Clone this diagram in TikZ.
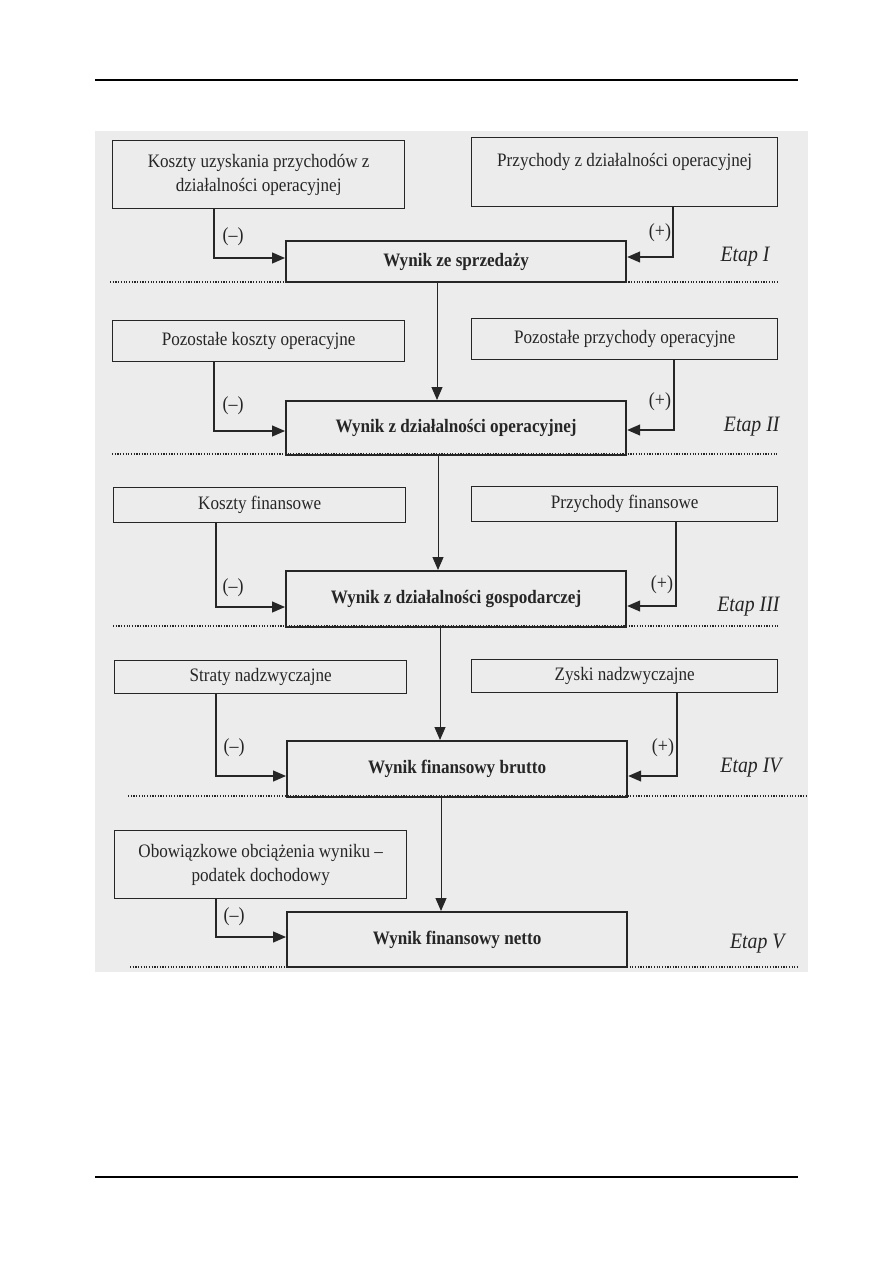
\documentclass[tikz,border=0pt]{standalone}
\usepackage{fontspec}
\setmainfont{Liberation Serif}
\newfontfamily\scanfont[FakeStretch=0.9]{Liberation Serif}
\usetikzlibrary{arrows.meta,positioning,calc}
\definecolor{scangray}{HTML}{ECECEC}
\definecolor{inkgray}{HTML}{262626}

\begin{document}
\begin{tikzpicture}[x=1pt,y=-1pt,
      src/.style={draw=inkgray,line width=1.4pt,anchor=north west,inner sep=0pt,
                  align=center,text=inkgray,font=\scanfont\fontsize{19}{24}\selectfont},
      lsrc/.style={src,minimum width=292pt},
      rsrc/.style={src,minimum width=306pt},
      res/.style={draw=inkgray,line width=2.2pt,anchor=north west,inner sep=0pt,
                  minimum width=340pt,text=inkgray,
                  font=\scanfont\fontsize{19}{22}\selectfont\bfseries},
      ar/.style={draw=inkgray,line width=1.3pt,-{Triangle[length=13pt,width=11pt]}},
      sign/.style={text=inkgray,font=\scanfont\fontsize{20}{22}\selectfont},
      etap/.style={anchor=east,text=inkgray,font=\scanfont\fontsize{22}{26}\selectfont\itshape},
      sep/.style={draw=inkgray,line width=1.5pt,dash pattern=on 1.2pt off 1.5pt}]
    \useasboundingbox (0,0) rectangle (893,1263);
    % page rules
    \draw[line width=1.2pt] (95,80) -- (798,80);
    \draw[line width=1.2pt] (95,1177) -- (798,1177);
    % scanned area
    \fill[scangray] (95,131) rectangle (808,972);
    % stage separators and labels
    \foreach \y/\a/\b/\n/\ey/\ex in {282/110/778/I/257/773,454/112/778/II/427/783,
        626/113/779/III/607/783,796/128/806/IV/768/785,967/130/798/V/944/788} {
      \draw[sep] (\a,\y) -- (\b,\y);
      \node[etap] (e\n) at (\ex,\ey) {Etap \n};}
    % stage I
    \node[lsrc,minimum height=68pt] (k1) at (112,140)
      {Koszty uzyskania przychodów z\\działalności operacyjnej};
    \node[rsrc,minimum height=69pt] (p1) at (471,137)
      {Przychody z działalności operacyjnej\\\mbox{}};
    \node[res,minimum height=41pt] (w1) at (285,240) {Wynik ze sprzedaży};
    \draw[ar] (k1.south -| 214,0) |- (w1.west |- 0,258);
    \draw[ar] (p1.south -| 673,0) |- (w1.east |- 0,257);
    \node[sign] (m1) at (233,237) {(–)};
    \node[sign] (s1) at (660,233) {(+)};
    % stage II
    \node[lsrc,minimum height=41pt] (k2) at (112,320) {Pozostałe koszty operacyjne};
    \node[rsrc,minimum height=41pt] (p2) at (471,318) {Pozostałe przychody operacyjne};
    \node[res,minimum height=54pt] (w2) at (285,400) {Wynik z działalności operacyjnej};
    \draw[ar,line width=1pt] (w1.south -| 437,0) -- (w2.north -| 437,0);
    \draw[ar] (k2.south -| 214,0) |- (w2.west |- 0,431);
    \draw[ar] (p2.south -| 674,0) |- (w2.east |- 0,430);
    \node[sign] (m2) at (233,406) {(–)};
    \node[sign] (s2) at (660,402) {(+)};
    % stage III
    \node[lsrc,minimum height=35pt] (k3) at (113,487) {Koszty finansowe};
    \node[rsrc,minimum height=35pt] (p3) at (471,486) {Przychody finansowe};
    \node[res,minimum height=56pt] (w3) at (285,570) {Wynik z działalności gospodarczej};
    \draw[ar,line width=1pt] (w2.south -| 438,0) -- (w3.north -| 438,0);
    \draw[ar] (k3.south -| 216,0) |- (w3.west |- 0,607);
    \draw[ar] (p3.south -| 676,0) |- (w3.east |- 0,606);
    \node[sign] (m3) at (233,588) {(–)};
    \node[sign] (s3) at (662,585) {(+)};
    % stage IV
    \node[lsrc,minimum height=33pt] (k4) at (114,660) {Straty nadzwyczajne};
    \node[rsrc,minimum height=33pt] (p4) at (471,659) {Zyski nadzwyczajne};
    \node[res,minimum height=56pt] (w4) at (286,740) {Wynik finansowy brutto};
    \draw[ar,line width=1pt] (w3.south -| 440,0) -- (w4.north -| 440,0);
    \draw[ar] (k4.south -| 216,0) |- (w4.west |- 0,776);
    \draw[ar] (p4.south -| 677,0) |- (w4.east |- 0,776);
    \node[sign] (m4) at (234,748) {(–)};
    \node[sign] (s4) at (663,748) {(+)};
    % stage V
    \node[lsrc,minimum height=68pt] (k5) at (114,830)
      {Obowiązkowe obciążenia wyniku –\\podatek dochodowy};
    \node[res,minimum height=55pt] (w5) at (286,911) {Wynik finansowy netto};
    \draw[ar,line width=1pt] (w4.south -| 441,0) -- (w5.north -| 441,0);
    \draw[ar] (k5.south -| 216,0) |- (w5.west |- 0,937);
    \node[sign] (m5) at (234,917) {(–)};
  \end{tikzpicture}
\end{document}
